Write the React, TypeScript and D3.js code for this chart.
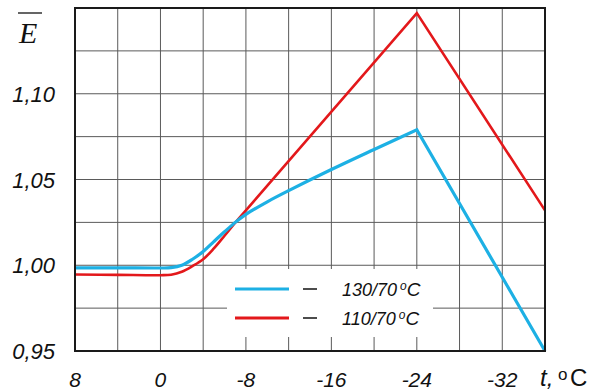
import React from "react";
import * as d3 from "d3";

// Data (t in °C, E relative)
const blueT = [8, 4, 0, -1, -2, -3, -4, -5, -6, -7, -8, -10, -12, -16, -20, -24, -28, -32, -36];
const blueE = [0.9985, 0.9985, 0.9984, 0.9986, 1.0, 1.0035, 1.008, 1.0138, 1.0195, 1.025, 1.0297, 1.037, 1.0435, 1.0558, 1.0675, 1.079, 1.036, 0.993, 0.95];
const redT = [8, 4, 0, -1, -2, -3, -4, -5, -6, -7, -8, -24, -36];
const redE = [0.9946, 0.9944, 0.9942, 0.9945, 0.9962, 0.9995, 1.0035, 1.0098, 1.0172, 1.0248, 1.032, 1.147, 1.032];

const xTicks = [8, 4, 0, -4, -8, -12, -16, -20, -24, -28, -32, -36];
const yTicks = [0.95, 0.975, 1.0, 1.025, 1.05, 1.075, 1.1, 1.125, 1.15];
const xLabels = [8, 0, -8, -16, -24, -32];
const yLabels = [0.95, 1.0, 1.05, 1.1];
const seriesNames = ["130/70", "110/70"];
const seriesColors = ["#1db0e4", "#e3181b"];

const W = 599;
const H = 392;
const L = 75, R = 545, T = 8, B = 351;

export default function App() {
  const x = d3.scaleLinear().domain([8, -36]).range([L, R]);
  const y = d3.scaleLinear().domain([0.95, 1.15]).range([B, T]);

  // smooth low part (catmull-rom) up to split index, straight segments after
  const build = (ts: number[], es: number[], split: number) => {
    const pts = ts.map((t, i) => [t, es[i]] as [number, number]);
    const smooth = d3
      .line<[number, number]>()
      .x((d) => x(d[0]))
      .y((d) => y(d[1]))
      .curve(d3.curveCatmullRom)(pts.slice(0, split + 1)) || "";
    const straight = d3
      .line<[number, number]>()
      .x((d) => x(d[0]))
      .y((d) => y(d[1]))(pts.slice(split)) || "";
    return smooth + straight.replace(/^M/, "L");
  };
  const bluePath = build(blueT, blueE, 15);
  const redPath = build(redT, redE, 10);

  const font = "'Liberation Sans', Arial, sans-serif";
  const legX = 227, legY = 269, legW = 206, legH = 68;

  return (
    <svg width={W} height={H} style={{ position: "absolute", left: 0, top: 0, background: "#fff" }} fontFamily={font}>
      <rect x={0} y={0} width={W} height={H} fill="#fff" />
      {xTicks.map((t) => (
        <line key={"gx" + t} x1={x(t)} x2={x(t)} y1={T} y2={B} stroke="#5a5a5a" strokeWidth={1} />
      ))}
      {yTicks.map((v) => (
        <line key={"gy" + v} x1={L} x2={R} y1={y(v)} y2={y(v)} stroke="#5a5a5a" strokeWidth={1} />
      ))}
      <rect x={legX} y={legY} width={legW} height={legH} fill="#fff" />
      {seriesNames.map((n, i) => {
        const ly = i === 0 ? 289 : 318;
        return (
          <g key={n}>
            <line x1={235} x2={289} y1={ly} y2={ly} stroke={seriesColors[i]} strokeWidth={3} />
            <line x1={303} x2={317} y1={ly} y2={ly} stroke="#111" strokeWidth={1.5} />
            <text x={342} y={ly + 7} fontSize={18} fontStyle="italic" fill="#111">
              {n}
              <tspan dx={3} dy={-6} fontSize={12}>o</tspan>
              <tspan dy={6} fontSize={19}>C</tspan>
            </text>
          </g>
        );
      })}
      <path d={redPath} fill="none" stroke={seriesColors[1]} strokeWidth={2.6} strokeLinejoin="miter" />
      <path d={bluePath} fill="none" stroke={seriesColors[0]} strokeWidth={3.2} strokeLinejoin="miter" />
      <rect x={L} y={T} width={R - L} height={B - T} fill="none" stroke="#1a1a1a" strokeWidth={2} />
      {yLabels.map((v) => (
        <text key={"yl" + v} x={55} y={y(v) + 8} textAnchor="end" fontSize={22} fontStyle="italic" fill="#111">
          {v.toFixed(2).replace(".", ",")}
        </text>
      ))}
      {xLabels.map((t) => (
        <text key={"xl" + t} x={x(t)} y={387} textAnchor="middle" fontSize={21} fontStyle="italic" fill="#111">
          {String(t)}
        </text>
      ))}
      <text x={540} y={386} fontSize={24} fontStyle="italic" fill="#111">t,</text>
      <text x={558} y={380} fontSize={17} fill="#111">o</text>
      <text x={570} y={386} fontSize={24} fill="#111">C</text>
      <text x={19} y={43} fontSize={30} fontStyle="italic" fontFamily="'Liberation Serif', 'Times New Roman', serif" fill="#111">E</text>
      <line x1={18} x2={42} y1={13} y2={13} stroke="#111" strokeWidth={1.3} />
    </svg>
  );
}
